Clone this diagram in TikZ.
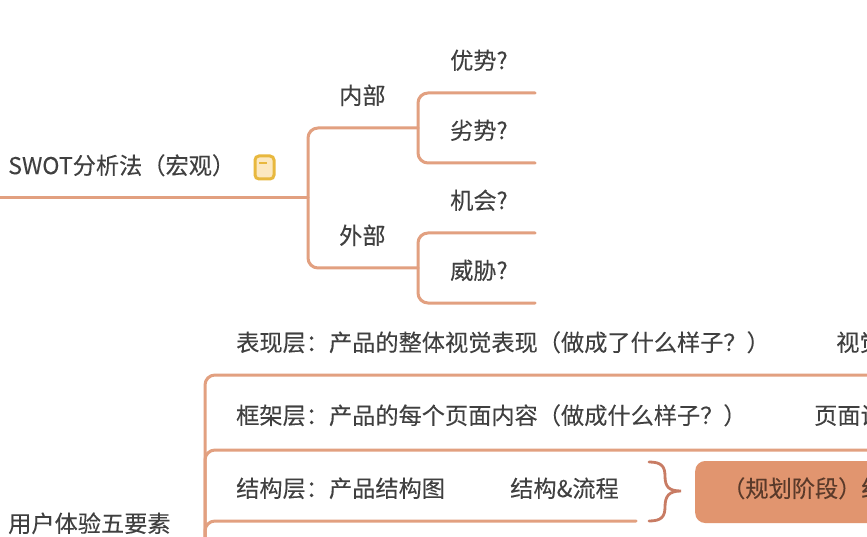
\documentclass[tikz,border=0pt]{standalone}
\usepackage{fontspec}
\setmainfont{Noto Sans CJK SC}[FakeBold=0.12]
\definecolor{linec}{HTML}{E2A080}
\definecolor{bracec}{HTML}{C87C64}
\definecolor{boxc}{HTML}{E1956F}
\definecolor{txtc}{HTML}{404040}
\definecolor{boxtxt}{HTML}{5A3A2A}
\definecolor{noteedge}{HTML}{E8B83E}
\definecolor{notefill}{HTML}{FCE8C0}
\tikzset{
  lbl/.style={anchor=west,inner sep=0pt,text=txtc,font=\fontsize{23.2}{28}\selectfont},
  branch/.style={draw=linec,line width=3pt,rounded corners=10pt,line cap=round},
  bracel/.style={draw=bracec,line width=2.8pt,line cap=round}
}
\begin{document}
\begin{tikzpicture}[x=1pt,y=-1pt]
\useasboundingbox (0,0) rectangle (867,537);
\clip (0,0) rectangle (867,537);
\fill[white] (0,0) rectangle (867,537);
% filled box
\node[fill=boxc,rounded corners=10pt,minimum width=200pt,minimum height=62pt,anchor=west,inner sep=0pt] (planbox) at (695,492) {};
% texts
\node[lbl] (swot) at (8,165.3) {SWOT分析法（宏观）};
\node[lbl] (nei) at (339,95.3) {内部};
\node[lbl] (wai) at (339,235.3) {外部};
\node[lbl] (you) at (450,60.3) {优势?};
\node[lbl] (lie) at (450,130.3) {劣势?};
\node[lbl] (ji) at (450,200.3) {机会?};
\node[lbl] (wei) at (450,270.3) {威胁?};
\node[lbl] (biao) at (236,342.3) {表现层：产品的整体视觉表现（做成了什么样子？）};
\node[lbl] (shi) at (836,342.3) {视觉};
\node[lbl] (kuang) at (236,415.3) {框架层：产品的每个页面内容（做成什么样子？）};
\node[lbl] (ye) at (814,415.3) {页面设计};
\node[lbl] (jie) at (236,488.3) {结构层：产品结构图};
\node[lbl] (jl) at (510,488.3) {结构\&流程};
\node[lbl,text=boxtxt] (plan) at (722,488.3) {（规划阶段）结构};
\node[lbl] (yh) at (8,523.3) {用户体验五要素};
% note icon
\node[draw=noteedge,fill=notefill,line width=3pt,rounded corners=4pt,minimum width=19pt,minimum height=23pt,inner sep=0pt] (icon) at (264.5,167.5) {};
\draw[noteedge,line width=2pt] (259,163) -- (267,163);
% connector anchors
\coordinate (root) at (0,198);
\coordinate (j1) at (308,198);
\coordinate (neiEnd) at (418,128);
\coordinate (waiEnd) at (418,268);
\coordinate (youEnd) at (535,93);
\coordinate (lieEnd) at (535,163);
\coordinate (jiEnd) at (535,233);
\coordinate (weiEnd) at (535,303);
\coordinate (v) at (205,537);
\coordinate (biaoEnd) at (870,375);
\coordinate (kuangEnd) at (870,450);
\coordinate (jieEnd) at (636,521);
% connectors
\draw[branch] (root) -- (j1);
\draw[branch] (neiEnd) -| (j1) |- (waiEnd);
\draw[branch] (youEnd) -| (neiEnd) |- (lieEnd);
\draw[branch] (jiEnd) -| (waiEnd) |- (weiEnd);
\draw[branch] (biaoEnd) -| (v);
\draw[branch] (kuangEnd) -| (v);
\draw[branch] (jieEnd) -| (v);
% brace
\draw[bracel] (649,462) .. controls (661,462) and (665,466) .. (665,476)
  .. controls (665,487) and (669,491) .. (681,491)
  .. controls (669,491) and (665,496) .. (665,507)
  .. controls (665,517) and (661,521) .. (649,521);
\end{tikzpicture}
\end{document}
